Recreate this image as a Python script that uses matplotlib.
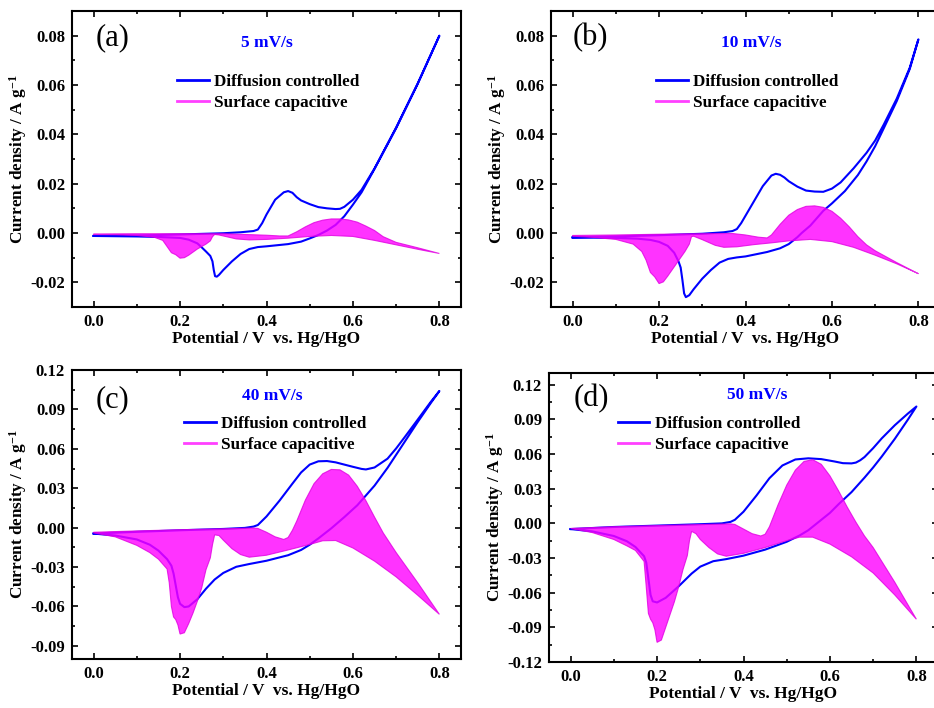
import numpy as np
import matplotlib
matplotlib.use("Agg")
import matplotlib.pyplot as plt
from matplotlib.lines import Line2D
from matplotlib.ticker import MultipleLocator, FormatStrFormatter

# ---- data: (potential V, current density A/g) ----
# (a) 5 mV/s
a_diff_lower = [(0.00, -0.0012), (0.05, -0.0013), (0.10, -0.0014), (0.15, -0.0016), (0.20, -0.0020),
                (0.22, -0.0027), (0.24, -0.0042), (0.25, -0.0058), (0.26, -0.0075), (0.27, -0.0093),
                (0.275, -0.0115), (0.278, -0.0150), (0.281, -0.0175), (0.285, -0.0177), (0.29, -0.0170),
                (0.30, -0.0150), (0.32, -0.0115), (0.34, -0.0085), (0.36, -0.0065), (0.38, -0.0057),
                (0.40, -0.0054), (0.45, -0.0045), (0.48, -0.0035), (0.50, -0.0022), (0.52, -0.0008),
                (0.54, 0.0010), (0.56, 0.0033), (0.58, 0.0068), (0.60, 0.0115), (0.62, 0.0165),
                (0.65, 0.0260), (0.70, 0.0425), (0.75, 0.0605), (0.80, 0.0800)]
a_diff_upper = [(0.00, -0.0012), (0.10, -0.0010), (0.20, -0.0006), (0.30, -0.0001), (0.34, 0.0003),
                (0.37, 0.0008), (0.38, 0.0014), (0.39, 0.0040), (0.40, 0.0075), (0.42, 0.0135),
                (0.44, 0.0165), (0.45, 0.0170), (0.46, 0.0163), (0.47, 0.0145), (0.48, 0.0132),
                (0.50, 0.0117), (0.52, 0.0105), (0.54, 0.0100), (0.56, 0.0097), (0.57, 0.0098),
                (0.58, 0.0106), (0.60, 0.0135), (0.62, 0.0175), (0.65, 0.0262), (0.70, 0.0428),
                (0.75, 0.0607), (0.80, 0.0800)]
a_cap_upper = [(0.00, -0.0004), (0.10, -0.0003), (0.20, -0.0003), (0.30, -0.0003), (0.35, -0.0006),
               (0.40, -0.0009), (0.43, -0.0012), (0.45, -0.0012), (0.47, 0.0005), (0.49, 0.0025),
               (0.51, 0.0042), (0.53, 0.0052), (0.55, 0.0057), (0.57, 0.0057), (0.59, 0.0053),
               (0.61, 0.0044), (0.63, 0.0028), (0.65, 0.0010), (0.67, -0.0015), (0.70, -0.0038),
               (0.75, -0.0060), (0.80, -0.0083)]
a_cap_lower = [(0.00, -0.0006), (0.05, -0.0007), (0.10, -0.0010), (0.14, -0.0017), (0.16, -0.0030),
               (0.17, -0.0055), (0.18, -0.0080), (0.19, -0.0088), (0.20, -0.0102), (0.21, -0.0100),
               (0.22, -0.0090), (0.24, -0.0065), (0.26, -0.0045), (0.27, -0.0032), (0.275, -0.0015),
               (0.28, -0.0006), (0.29, -0.0008), (0.31, -0.0016), (0.33, -0.0024), (0.36, -0.0028),
               (0.40, -0.0026), (0.45, -0.0021), (0.50, -0.0014), (0.55, -0.0010), (0.60, -0.0014),
               (0.65, -0.0030), (0.70, -0.0048), (0.75, -0.0066), (0.80, -0.0083)]

# (b) 10 mV/s
b_diff_lower = [(0.00, -0.0018), (0.05, -0.0019), (0.10, -0.0020), (0.15, -0.0023), (0.18, -0.0028),
                (0.20, -0.0036), (0.22, -0.0052), (0.235, -0.0080), (0.245, -0.0115), (0.25, -0.0140),
                (0.254, -0.0190), (0.258, -0.0245), (0.262, -0.0260), (0.27, -0.0252), (0.28, -0.0228),
                (0.30, -0.0185), (0.32, -0.0150), (0.34, -0.0120), (0.36, -0.0105), (0.38, -0.0099),
                (0.40, -0.0095), (0.45, -0.0077), (0.48, -0.0062), (0.50, -0.0045), (0.52, -0.0017),
                (0.53, 0.0000), (0.55, 0.0030), (0.58, 0.0090), (0.60, 0.0120), (0.63, 0.0170),
                (0.66, 0.0235), (0.68, 0.0290), (0.70, 0.0352), (0.72, 0.0425), (0.75, 0.0535),
                (0.78, 0.0665), (0.80, 0.0785)]
b_diff_upper = [(0.00, -0.0018), (0.10, -0.0014), (0.20, -0.0009), (0.30, -0.0003), (0.35, 0.0003),
                (0.37, 0.0008), (0.38, 0.0016), (0.39, 0.0040), (0.40, 0.0070), (0.42, 0.0130),
                (0.44, 0.0190), (0.46, 0.0233), (0.47, 0.0240), (0.48, 0.0236), (0.49, 0.0225),
                (0.50, 0.0210), (0.52, 0.0188), (0.54, 0.0172), (0.56, 0.0168), (0.58, 0.0167),
                (0.60, 0.0180), (0.62, 0.0205), (0.65, 0.0262), (0.68, 0.0325), (0.70, 0.0375),
                (0.72, 0.0440), (0.75, 0.0545), (0.78, 0.0670), (0.80, 0.0785)]
b_cap_upper = [(0.00, -0.0010), (0.10, -0.0008), (0.20, -0.0005), (0.30, -0.0003), (0.37, -0.0002),
               (0.40, -0.0008), (0.43, -0.0017), (0.45, -0.0020), (0.46, -0.0008), (0.48, 0.0035),
               (0.50, 0.0072), (0.52, 0.0095), (0.54, 0.0108), (0.56, 0.0110), (0.58, 0.0104),
               (0.60, 0.0088), (0.62, 0.0060), (0.64, 0.0025), (0.66, -0.0015), (0.68, -0.0048),
               (0.70, -0.0072), (0.75, -0.0120), (0.80, -0.0165)]
b_cap_lower = [(0.00, -0.0013), (0.05, -0.0018), (0.10, -0.0026), (0.14, -0.0045), (0.16, -0.0075),
               (0.17, -0.0110), (0.18, -0.0160), (0.19, -0.0178), (0.20, -0.0205), (0.21, -0.0198),
               (0.22, -0.0175), (0.24, -0.0125), (0.26, -0.0075), (0.27, -0.0045), (0.275, -0.0015),
               (0.28, -0.0013), (0.30, -0.0027), (0.33, -0.0050), (0.35, -0.0058), (0.38, -0.0056),
               (0.42, -0.0047), (0.46, -0.0040), (0.50, -0.0032), (0.55, -0.0026), (0.60, -0.0035),
               (0.65, -0.0058), (0.70, -0.0090), (0.75, -0.0125), (0.80, -0.0165)]

# (c) 40 mV/s
c_diff_lower = [(0.00, -0.0045), (0.05, -0.0060), (0.10, -0.0090), (0.13, -0.0130), (0.15, -0.0175),
                (0.17, -0.0240), (0.18, -0.0290), (0.185, -0.0350), (0.19, -0.0440), (0.195, -0.0530),
                (0.20, -0.0580), (0.21, -0.0605), (0.22, -0.0600), (0.24, -0.0545), (0.26, -0.0465),
                (0.28, -0.0395), (0.30, -0.0345), (0.33, -0.0298), (0.36, -0.0277), (0.40, -0.0252),
                (0.45, -0.0210), (0.48, -0.0170), (0.50, -0.0130), (0.52, -0.0082), (0.55, -0.0005),
                (0.58, 0.0080), (0.61, 0.0170), (0.65, 0.0320), (0.68, 0.0455), (0.70, 0.0555),
                (0.72, 0.0655), (0.75, 0.0805), (0.78, 0.0948), (0.80, 0.1040)]
c_diff_upper = [(0.00, -0.0045), (0.10, -0.0032), (0.20, -0.0020), (0.30, -0.0010), (0.35, -0.0002),
                (0.37, 0.0008), (0.38, 0.0020), (0.40, 0.0085), (0.43, 0.0205), (0.46, 0.0335),
                (0.48, 0.0420), (0.50, 0.0480), (0.52, 0.0505), (0.54, 0.0507), (0.56, 0.0497),
                (0.58, 0.0480), (0.60, 0.0463), (0.62, 0.0447), (0.63, 0.0443), (0.65, 0.0458),
                (0.68, 0.0525), (0.70, 0.0603), (0.72, 0.0690), (0.75, 0.0823), (0.78, 0.0957),
                (0.80, 0.1040)]
c_cap_upper = [(0.00, -0.0035), (0.10, -0.0025), (0.20, -0.0016), (0.30, -0.0009), (0.37, -0.0003),
               (0.38, -0.0006), (0.40, -0.0035), (0.42, -0.0070), (0.44, -0.0090), (0.45, -0.0075),
               (0.46, -0.0020), (0.47, 0.0050), (0.49, 0.0210), (0.51, 0.0335), (0.53, 0.0410),
               (0.55, 0.0443), (0.57, 0.0440), (0.59, 0.0400), (0.61, 0.0315), (0.63, 0.0205),
               (0.65, 0.0080), (0.67, -0.0040), (0.70, -0.0190), (0.75, -0.0420), (0.80, -0.0660)]
c_cap_lower = [(0.00, -0.0040), (0.05, -0.0070), (0.10, -0.0135), (0.13, -0.0190), (0.15, -0.0240),
               (0.17, -0.0315), (0.175, -0.0420), (0.18, -0.0600), (0.185, -0.0680), (0.19, -0.0700),
               (0.195, -0.0740), (0.20, -0.0810), (0.21, -0.0800), (0.22, -0.0730), (0.23, -0.0650),
               (0.24, -0.0560), (0.25, -0.0460), (0.26, -0.0320), (0.27, -0.0230), (0.275, -0.0130),
               (0.28, -0.0055), (0.29, -0.0060), (0.30, -0.0095), (0.32, -0.0160), (0.34, -0.0205),
               (0.36, -0.0225), (0.40, -0.0210), (0.45, -0.0170), (0.50, -0.0128), (0.53, -0.0100),
               (0.56, -0.0098), (0.60, -0.0155), (0.65, -0.0255), (0.70, -0.0375), (0.75, -0.0515),
               (0.80, -0.0660)]

# (d) 50 mV/s
d_diff_lower = [(0.00, -0.0050), (0.05, -0.0070), (0.10, -0.0110), (0.13, -0.0155), (0.15, -0.0205),
                (0.17, -0.0285), (0.175, -0.0340), (0.18, -0.0480), (0.185, -0.0620), (0.19, -0.0675),
                (0.20, -0.0685), (0.22, -0.0645), (0.25, -0.0545), (0.28, -0.0435), (0.30, -0.0375),
                (0.33, -0.0328), (0.36, -0.0310), (0.40, -0.0280), (0.45, -0.0228), (0.50, -0.0160),
                (0.53, -0.0105), (0.55, -0.0060), (0.58, 0.0030), (0.60, 0.0090), (0.62, 0.0165),
                (0.65, 0.0270), (0.68, 0.0395), (0.70, 0.0483), (0.72, 0.0578), (0.75, 0.0730),
                (0.78, 0.0895), (0.80, 0.1010)]
d_diff_upper = [(0.00, -0.0050), (0.10, -0.0032), (0.20, -0.0020), (0.30, -0.0008), (0.35, -0.0001),
                (0.37, 0.0012), (0.38, 0.0030), (0.40, 0.0100), (0.43, 0.0240), (0.46, 0.0390),
                (0.49, 0.0500), (0.52, 0.0552), (0.55, 0.0562), (0.58, 0.0555), (0.61, 0.0535),
                (0.63, 0.0520), (0.65, 0.0518), (0.66, 0.0525), (0.67, 0.0545), (0.68, 0.0573),
                (0.70, 0.0650), (0.72, 0.0735), (0.75, 0.0848), (0.78, 0.0948), (0.80, 0.1010)]
d_cap_upper = [(0.00, -0.0045), (0.10, -0.0030), (0.20, -0.0020), (0.30, -0.0011), (0.37, -0.0005),
               (0.38, -0.0010), (0.40, -0.0050), (0.42, -0.0090), (0.44, -0.0110), (0.45, -0.0095),
               (0.46, -0.0030), (0.48, 0.0160), (0.50, 0.0330), (0.52, 0.0460), (0.54, 0.0535),
               (0.56, 0.0550), (0.58, 0.0510), (0.60, 0.0410), (0.62, 0.0280), (0.64, 0.0140),
               (0.66, 0.0010), (0.68, -0.0110), (0.70, -0.0210), (0.75, -0.0510), (0.80, -0.0830)]
d_cap_lower = [(0.00, -0.0045), (0.05, -0.0080), (0.10, -0.0140), (0.13, -0.0195), (0.15, -0.0235),
               (0.17, -0.0330), (0.175, -0.0550), (0.18, -0.0780), (0.185, -0.0830), (0.19, -0.0860),
               (0.195, -0.0920), (0.20, -0.1030), (0.21, -0.1010), (0.22, -0.0900), (0.24, -0.0680),
               (0.25, -0.0550), (0.26, -0.0400), (0.27, -0.0280), (0.275, -0.0150), (0.28, -0.0070),
               (0.29, -0.0090), (0.30, -0.0140), (0.32, -0.0210), (0.34, -0.0265), (0.36, -0.0285),
               (0.40, -0.0260), (0.45, -0.0210), (0.50, -0.0150), (0.53, -0.0120), (0.56, -0.0120),
               (0.60, -0.0180), (0.65, -0.0290), (0.70, -0.0430), (0.75, -0.0620), (0.80, -0.0830)]

panel_letters = ["(a)", "(b)", "(c)", "(d)"]
scan_rates = ["5 mV/s", "10 mV/s", "40 mV/s", "50 mV/s"]
y_limits = [(-0.03, 0.09), (-0.03, 0.09), (-0.10, 0.12), (-0.12, 0.13)]
y_steps = [0.02, 0.02, 0.03, 0.03]

plt.rcParams.update({
    "font.family": "Liberation Serif",
    "font.weight": "bold",
    "axes.labelweight": "bold",
    "axes.unicode_minus": False,
    "mathtext.fontset": "custom",
    "mathtext.rm": "Liberation Serif",
    "mathtext.bf": "Liberation Serif:bold",
    "mathtext.default": "bf",
})

BLUE = "#0000ff"
MAGENTA = "#ff00ff"

fig = plt.figure(figsize=(9.34, 7.08), dpi=100)
W, H = 934, 708
# axes boxes in pixels: left, top, width, height
boxes = [(72, 11, 389, 296), (551, 11, 389, 296), (72, 370, 389, 289), (549, 373, 389, 289)]
# label placements (axes fraction)
letter_pos = [(0.103, 0.909), (0.100, 0.909), (0.105, 0.896), (0.108, 0.910)]
rate_pos = [(0.500, 0.893), (0.514, 0.893), (0.514, 0.909), (0.535, 0.925)]
legend_pos = [(0.27, 0.787), (0.27, 0.787), (0.288, 0.842), (0.177, 0.852)]

data = [
    (a_diff_lower, a_diff_upper, a_cap_upper, a_cap_lower),
    (b_diff_lower, b_diff_upper, b_cap_upper, b_cap_lower),
    (c_diff_lower, c_diff_upper, c_cap_upper, c_cap_lower),
    (d_diff_lower, d_diff_upper, d_cap_upper, d_cap_lower),
]

for i, (dl, du, cu, cl) in enumerate(data):
    l, t, w, h = boxes[i]
    ax = fig.add_axes([l / W, (H - t - h) / H, w / W, h / H])

    dl = np.array(dl)
    du = np.array(du)
    cu = np.array(cu)
    cl = np.array(cl)

    # full CV loop (diffusion controlled)
    loop_v = np.concatenate([dl[:, 0], du[::-1, 0]])
    loop_j = np.concatenate([dl[:, 1], du[::-1, 1]])
    ax.plot(loop_v, loop_j, color=BLUE, lw=1.5, zorder=2)

    # capacitive region
    cap_v = np.concatenate([cu[:, 0], cl[::-1, 0]])
    cap_j = np.concatenate([cu[:, 1], cl[::-1, 1]])
    ax.fill(cap_v, cap_j, facecolor=MAGENTA, edgecolor="#e000e0", lw=0.8, alpha=0.8, zorder=3)

    ax.set_xlim(-0.05, 0.85)
    ax.set_ylim(*y_limits[i])
    ax.xaxis.set_major_locator(MultipleLocator(0.2))
    ax.xaxis.set_minor_locator(MultipleLocator(0.1))
    ax.yaxis.set_major_locator(MultipleLocator(y_steps[i]))
    ax.yaxis.set_minor_locator(MultipleLocator(y_steps[i] / 2))
    ax.xaxis.set_major_formatter(FormatStrFormatter("%.1f"))
    ax.yaxis.set_major_formatter(FormatStrFormatter("%.2f"))
    ax.tick_params(which="both", direction="in", top=True, right=True, width=1.2)
    ax.tick_params(which="major", length=4.5, labelsize=12, pad=5)
    ax.tick_params(which="minor", length=2.5)
    for s in ax.spines.values():
        s.set_linewidth(1.5)

    ax.set_xlabel("Potential / V  vs. Hg/HgO", fontsize=12.5, labelpad=1)
    ax.set_ylabel("Current density / A g$^{-1}$", fontsize=12.3, labelpad=1)

    ax.text(*letter_pos[i], panel_letters[i], transform=ax.transAxes, fontsize=22,
            fontweight="normal", ha="center", va="center")
    ax.text(*rate_pos[i], scan_rates[i], transform=ax.transAxes, fontsize=12.5,
            color=BLUE, ha="center", va="center")

    handles = [Line2D([], [], color=BLUE, lw=2), Line2D([], [], color="#ff40ff", lw=2)]
    ax.legend(handles, ["Diffusion controlled", "Surface capacitive"], loc="upper left",
              bbox_to_anchor=legend_pos[i], frameon=False, fontsize=12.3, borderpad=0,
              borderaxespad=0, handlelength=1.85, handletextpad=0.3, labelspacing=0.3)

fig.savefig("out.png", dpi=100)
